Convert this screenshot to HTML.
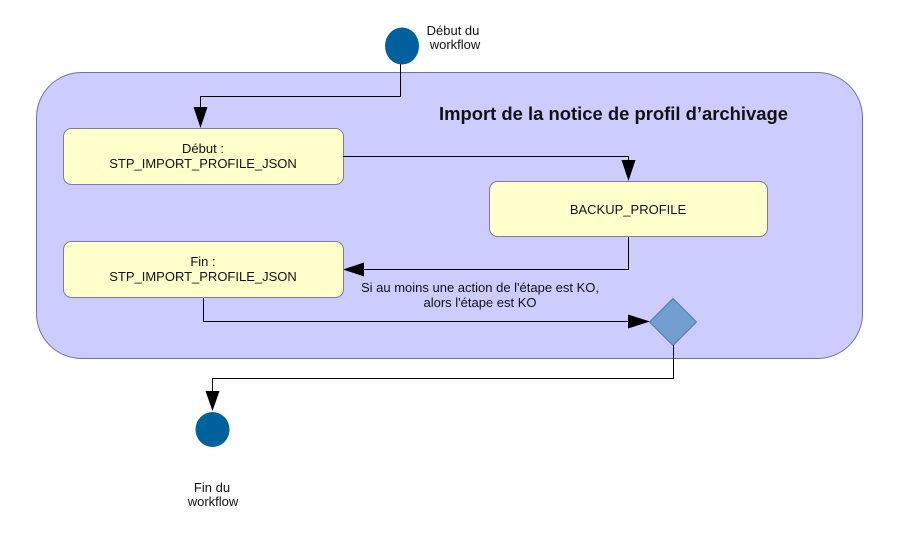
<!DOCTYPE html>
<html><head><meta charset="utf-8"><style>
html,body{margin:0;padding:0;background:#fff;}
svg{display:block;}
text{font-family:"Liberation Sans",Arial,sans-serif;fill:#111;}
</style></head><body>
<svg width="898" height="536" viewBox="0 0 898 536" xmlns="http://www.w3.org/2000/svg">
<rect x="0" y="0" width="898" height="536" fill="#fff"/>
<!-- container -->
<rect x="36.5" y="72.5" width="826" height="286" rx="45" ry="45" fill="#ccccff" stroke="#6d70a6" stroke-width="1"/>
<text x="439" y="120" font-size="18" font-weight="bold" textLength="349" lengthAdjust="spacingAndGlyphs">Import de la notice de profil d’archivage</text>

<!-- start node -->
<ellipse cx="402" cy="46" rx="17" ry="18.5" fill="#00619c"/>
<text x="453" y="35" font-size="13" text-anchor="middle">Début du</text>
<text x="455" y="49" font-size="13" text-anchor="middle">workflow</text>

<!-- connector start -> box1 -->
<polyline points="400.5,64 400.5,96.5 200.5,96.5 200.5,108" fill="none" stroke="#000" stroke-width="1"/>
<polygon points="193.5,107 207.5,107 200.5,128" fill="#000"/>

<!-- box1 -->
<rect x="63.5" y="128.5" width="280" height="56" rx="8" ry="8" fill="#ffffcc" stroke="#7a7ca0" stroke-width="1"/>
<text x="203" y="153" font-size="13" text-anchor="middle">Début :</text>
<text x="203" y="168" font-size="13" text-anchor="middle">STP_IMPORT_PROFILE_JSON</text>

<!-- box1 -> backup -->
<polyline points="343,156.5 628.5,156.5 628.5,162" fill="none" stroke="#000" stroke-width="1"/>
<polygon points="621.5,160 635.5,160 628.5,181" fill="#000"/>

<!-- backup box -->
<rect x="489.5" y="181.5" width="278" height="55" rx="8" ry="8" fill="#ffffcc" stroke="#7a7ca0" stroke-width="1"/>
<text x="628" y="214" font-size="13" text-anchor="middle">BACKUP_PROFILE</text>

<!-- backup -> fin box -->
<polyline points="628.5,237 628.5,269.5 362,269.5" fill="none" stroke="#000" stroke-width="1"/>
<polygon points="364,262.5 364,276.5 343,269.5" fill="#000"/>
<text x="480" y="292" font-size="13" text-anchor="middle">Si au moins une action de l'étape est KO,</text>
<text x="480" y="307" font-size="13" text-anchor="middle">alors l'étape est KO</text>

<!-- fin box -->
<rect x="63.5" y="241.5" width="280" height="56" rx="8" ry="8" fill="#ffffcc" stroke="#7a7ca0" stroke-width="1"/>
<text x="203" y="266" font-size="13" text-anchor="middle">Fin :</text>
<text x="203" y="281" font-size="13" text-anchor="middle">STP_IMPORT_PROFILE_JSON</text>

<!-- fin -> diamond -->
<polyline points="203.5,298 203.5,321.5 630,321.5" fill="none" stroke="#000" stroke-width="1"/>
<polygon points="628,314.5 628,328.5 650,321.5" fill="#000"/>

<!-- diamond -->
<polygon points="673,298.5 696.5,322 673,345.5 649.5,322" fill="#729fcf" stroke="#4f79b0" stroke-width="1"/>

<!-- diamond -> end -->
<polyline points="673.5,345 673.5,378.5 212.5,378.5 212.5,392" fill="none" stroke="#000" stroke-width="1"/>
<polygon points="205.5,391 219.5,391 212.5,411" fill="#000"/>

<!-- end node -->
<ellipse cx="212.5" cy="429.5" rx="17" ry="17.5" fill="#00619c"/>
<text x="212" y="492" font-size="13" text-anchor="middle">Fin du</text>
<text x="213" y="506" font-size="13" text-anchor="middle">workflow</text>
</svg>
</body></html>
